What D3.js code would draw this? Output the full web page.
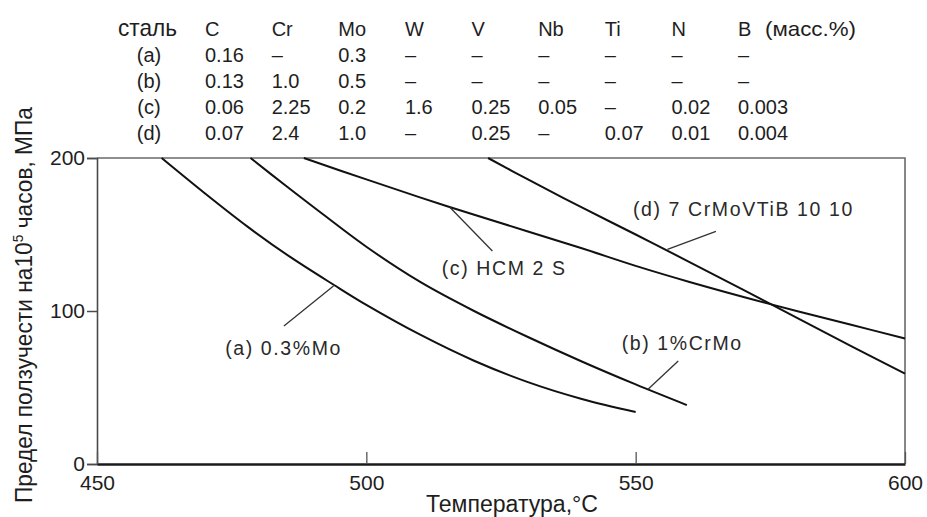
<!DOCTYPE html>
<html>
<head>
<meta charset="utf-8">
<script src="https://cdn.jsdelivr.net/npm/d3@7"></script>
<style>
  html, body { margin: 0; padding: 0; background: #fff; }
  svg { display: block; font-family: "Liberation Sans", Arial, Helvetica, sans-serif; }
</style>
</head>
<body>
<svg id="chart" width="927" height="517"></svg>
<script>
// Creep-rupture strength (10^5 h) versus temperature for four heat-resistant steels.
// Each series: [temperature °C, strength MPa]
const steelA = [[462, 200], [470, 177], [478, 155], [486, 135], [494, 117], [500, 104],
                [510, 84.5], [520, 67.5], [530, 53.5], [540, 42.5], [550, 34]];
const steelB = [[478.5, 200], [485, 182], [490, 168.5], [500, 142], [510, 119], [520, 100],
                [530, 83], [540, 67], [550, 52], [559.5, 38.5]];
const steelC = [[488.4, 200], [500, 186], [515, 168.5], [530, 152], [540, 141], [550, 129.5],
                [560, 119], [575, 104.5], [590, 91], [600, 82]];
const steelD = [[522.6, 200], [530, 186], [540, 167.7], [550, 150], [560, 132], [575, 104.6],
                [590, 77], [600, 59]];

const xTicks = [450, 500, 550, 600];
const yTicks = [0, 100, 200];

// Chemical composition table (mass %)
const elements = ["C", "Cr", "Mo", "W", "V", "Nb", "Ti", "N", "B"];
const steelIds = ["(a)", "(b)", "(c)", "(d)"];
const compA = ["0.16", "–", "0.3", "–", "–", "–", "–", "–", "–"];
const compB = ["0.13", "1.0", "0.5", "–", "–", "–", "–", "–", "–"];
const compC = ["0.06", "2.25", "0.2", "1.6", "0.25", "0.05", "–", "0.02", "0.003"];
const compD = ["0.07", "2.4", "1.0", "–", "0.25", "–", "0.07", "0.01", "0.004"];
const compositions = [compA, compB, compC, compD];

const seriesNames = ["(a) 0.3%Mo", "(b) 1%CrMo", "(c) HCM 2 S", "(d) 7 CrMoVTiB 10 10"];
const seriesData = [steelA, steelB, steelC, steelD];

// ---------------------------------------------------------------------------
const svg = d3.select("#chart");
const plot = { left: 97, right: 905, top: 158, bottom: 464 };

const x = d3.scaleLinear().domain([450, 600]).range([plot.left, plot.right]);
const y = d3.scaleLinear().domain([0, 200]).range([plot.bottom, plot.top]);

// Frame: top and right borders
svg.append("path")
  .attr("d", `M${plot.left},${plot.top}H${plot.right}V${plot.bottom}`)
  .attr("fill", "none").attr("stroke", "#6a6a6a").attr("stroke-width", 1.6);

// Y axis (outer ticks)
const yAxis = svg.append("g")
  .attr("transform", `translate(${plot.left},0)`)
  .call(d3.axisLeft(y).tickValues(yTicks).tickSize(10).tickPadding(2).tickFormat(d3.format("d")));
yAxis.select(".domain").attr("stroke", "#4a4a4a").attr("stroke-width", 1.6);
yAxis.selectAll(".tick line").attr("stroke", "#4a4a4a").attr("stroke-width", 1.5);
yAxis.selectAll(".tick text")
  .attr("font-size", 21).attr("fill", "#1e1e1e").attr("font-family", "Liberation Sans, Arial, sans-serif");

// X axis (inner ticks)
const xAxis = svg.append("g")
  .attr("transform", `translate(0,${plot.bottom})`)
  .call(d3.axisBottom(x).tickValues(xTicks).tickSizeInner(-12).tickSizeOuter(0).tickPadding(0));
xAxis.select(".domain").attr("stroke", "#1a1a1a").attr("stroke-width", 2.4);
xAxis.selectAll(".tick line").attr("stroke", "#555").attr("stroke-width", 1.3);
xAxis.selectAll(".tick text")
  .attr("y", 26).attr("dy", 0)
  .attr("font-size", 21).attr("fill", "#1e1e1e").attr("font-family", "Liberation Sans, Arial, sans-serif");

// Axis titles
svg.append("text")
  .attr("x", 512).attr("y", 512)
  .attr("text-anchor", "middle")
  .attr("font-size", 23).attr("fill", "#1e1e1e")
  .attr("textLength", 172).attr("lengthAdjust", "spacingAndGlyphs")
  .text("Температура,°C");

const yTitle = svg.append("text")
  .attr("transform", "translate(32,305) rotate(-90)")
  .attr("text-anchor", "middle")
  .attr("font-size", 23).attr("fill", "#1e1e1e")
  .attr("textLength", 396).attr("lengthAdjust", "spacingAndGlyphs");
yTitle.append("tspan").text("Предел ползучести на10");
yTitle.append("tspan").attr("font-size", 14).attr("dy", -9).text("5");
yTitle.append("tspan").attr("dy", 9).text(" часов, МПа");

// Curves
const line = d3.line()
  .x(d => x(d[0]))
  .y(d => y(d[1]))
  .curve(d3.curveCatmullRom.alpha(0.5));

svg.append("g").selectAll("path")
  .data(seriesData)
  .join("path")
  .attr("d", line)
  .attr("fill", "none")
  .attr("stroke", "#111")
  .attr("stroke-width", 2);

// Curve labels with leader lines (positions in data units)
const annotations = [
  { name: seriesNames[0], on: [493.9, 116.3], tail: [484.7, 90.2], at: [473.8, 71.2] },
  { name: seriesNames[1], on: [552.3, 48.8],  tail: [557.9, 67.3], at: [547.4, 74.5] },
  { name: seriesNames[2], on: [515.5, 167.8], tail: [523.4, 139.2], at: [514.0, 123.5] },
  { name: seriesNames[3], on: [555.9, 140.3], tail: [564.9, 152.1], at: [549.5, 162.1] }
];

const ann = svg.append("g");
ann.selectAll("line")
  .data(annotations)
  .join("line")
  .attr("x1", d => x(d.on[0])).attr("y1", d => y(d.on[1]))
  .attr("x2", d => x(d.tail[0])).attr("y2", d => y(d.tail[1]))
  .attr("stroke", "#333").attr("stroke-width", 1.3);
ann.selectAll("text")
  .data(annotations)
  .join("text")
  .attr("x", d => x(d.at[0])).attr("y", d => y(d.at[1]))
  .attr("font-size", 19.5).attr("letter-spacing", 1.6).attr("fill", "#2a2a2a")
  .text(d => d.name);

// Composition table
const col = d3.scalePoint().domain(elements).range([205, 738]);
const row = d3.scalePoint().domain(["head", ...steelIds]).range([36, 140]);
const table = svg.append("g").attr("fill", "#1e1e1e").attr("font-size", 20);

table.append("text")
  .attr("x", 147.5).attr("y", row("head"))
  .attr("text-anchor", "middle")
  .attr("font-size", 24)
  .attr("textLength", 59).attr("lengthAdjust", "spacingAndGlyphs")
  .text("сталь");

table.selectAll("text.el")
  .data(elements)
  .join("text").attr("class", "el")
  .attr("x", d => col(d)).attr("y", row("head"))
  .text(d => d);

table.append("text")
  .attr("x", 765).attr("y", row("head"))
  .attr("font-size", 21)
  .attr("textLength", 91).attr("lengthAdjust", "spacingAndGlyphs")
  .text("(масс.%)");

table.selectAll("text.id")
  .data(steelIds)
  .join("text").attr("class", "id")
  .attr("x", 149).attr("y", d => row(d))
  .attr("text-anchor", "middle")
  .text(d => d);

steelIds.forEach((id, i) => {
  table.selectAll(`text.v${i}`)
    .data(compositions[i])
    .join("text").attr("class", `v${i}`)
    .attr("x", (d, j) => col(elements[j]))
    .attr("y", row(id))
    .text(d => d);
});
</script>
</body>
</html>
